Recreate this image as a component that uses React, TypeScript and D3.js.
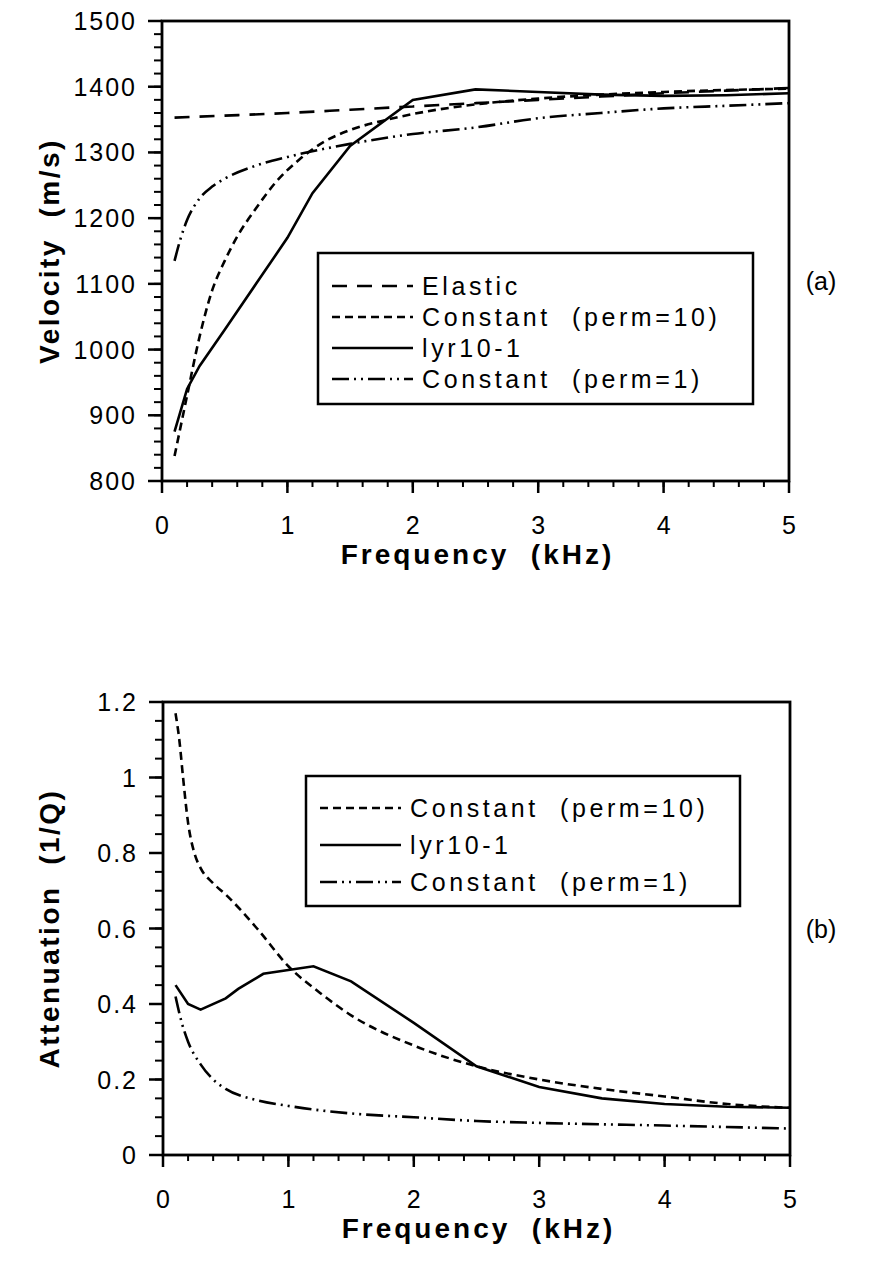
import React, { useEffect, useRef } from "react";
import * as d3 from "d3";

// frequency in kHz
const velocityElastic: [number, number][] = [
  [0.1, 1353], [0.5, 1356], [1, 1360], [1.5, 1365], [2, 1370], [2.5, 1375],
  [3, 1380], [3.5, 1385], [4, 1390], [4.5, 1394], [5, 1398],
];
const velocityPerm10: [number, number][] = [
  [0.1, 838], [0.2, 930], [0.3, 1020], [0.4, 1090], [0.5, 1135], [0.6, 1172],
  [0.75, 1215], [0.9, 1253], [1.1, 1290], [1.3, 1317], [1.5, 1334], [1.8, 1350],
  [2.1, 1362], [2.5, 1373], [3, 1382], [3.5, 1388], [4, 1392], [4.5, 1395], [5, 1397],
];
const velocityLyr: [number, number][] = [
  [0.1, 875], [0.2, 940], [0.3, 975], [0.5, 1030], [0.75, 1100], [1, 1170],
  [1.2, 1238], [1.5, 1310], [2, 1380], [2.5, 1396], [3, 1392], [3.5, 1388],
  [4, 1386], [4.5, 1387], [5, 1390],
];
const velocityPerm1: [number, number][] = [
  [0.1, 1135], [0.15, 1170], [0.2, 1197], [0.3, 1230], [0.4, 1248], [0.5, 1260],
  [0.75, 1280], [1, 1293], [1.5, 1313], [2, 1328], [2.5, 1338], [3, 1352],
  [3.5, 1360], [4, 1367], [4.5, 1371], [5, 1375],
];

const attenPerm10: [number, number][] = [
  [0.1, 1.17], [0.13, 1.1], [0.16, 1.0], [0.2, 0.88], [0.25, 0.8], [0.3, 0.76],
  [0.4, 0.72], [0.5, 0.69], [0.75, 0.6], [1, 0.5], [1.25, 0.43], [1.5, 0.37],
  [2, 0.29], [2.5, 0.235], [3, 0.2], [3.5, 0.175], [4, 0.155], [4.5, 0.135], [5, 0.125],
];
const attenLyr: [number, number][] = [
  [0.1, 0.45], [0.2, 0.4], [0.3, 0.385], [0.5, 0.415], [0.6, 0.44], [0.8, 0.48],
  [1, 0.49], [1.2, 0.5], [1.5, 0.46], [2, 0.35], [2.5, 0.235], [3, 0.18],
  [3.5, 0.15], [4, 0.135], [4.5, 0.128], [5, 0.125],
];
const attenPerm1: [number, number][] = [
  [0.1, 0.42], [0.15, 0.35], [0.2, 0.3], [0.3, 0.24], [0.4, 0.2], [0.5, 0.175],
  [0.75, 0.145], [1, 0.13], [1.5, 0.11], [2, 0.1], [2.5, 0.09], [3, 0.085],
  [4, 0.078], [5, 0.07],
];

const freqTicks = [0, 1, 2, 3, 4, 5];
const velocityTicks = [800, 900, 1000, 1100, 1200, 1300, 1400, 1500];
const attenTicks = [0, 0.2, 0.4, 0.6, 0.8, 1, 1.2];
const attenTickLabels = ["0", "0.2", "0.4", "0.6", "0.8", "1", "1.2"];

const STYLES: Record<string, { dash: string | null; curve: d3.CurveFactory }> = {
  elastic: { dash: "15,10", curve: d3.curveMonotoneX },
  perm10: { dash: "8,5", curve: d3.curveMonotoneX },
  lyr: { dash: null, curve: d3.curveLinear },
  perm1: { dash: "17,5,2,5,2,5", curve: d3.curveMonotoneX },
};

const FONT = "'Liberation Sans', Arial, Helvetica, sans-serif";

type Series = { key: string; label: string; data: [number, number][] };

function drawPanel(
  root: d3.Selection<SVGGElement, unknown, null, undefined>,
  opts: {
    left: number; right: number; top: number; bottom: number;
    yDomain: [number, number]; yTicks: number[]; yLabels: string[]; yMinor: number;
    yTitle: string; tag: string; tagValue: number;
    series: Series[];
    legend: { left: number; right: number; top: number; bottom: number; firstRow: number; rowGap: number };
  },
) {
  const x = d3.scaleLinear().domain([0, 5]).range([opts.left, opts.right]);
  const y = d3.scaleLinear().domain(opts.yDomain).range([opts.bottom, opts.top]);
  const g = root.append("g");

  // minor + major ticks (outside, left & bottom)
  const yMinorTicks = d3.range(opts.yDomain[0], opts.yDomain[1] + 1e-9, opts.yMinor);
  g.selectAll(".ymin").data(yMinorTicks).join("line")
    .attr("x1", opts.left - 8).attr("x2", opts.left)
    .attr("y1", (d) => y(d)).attr("y2", (d) => y(d))
    .attr("stroke", "#000").attr("stroke-width", 2);
  g.selectAll(".ymaj").data(opts.yTicks).join("line")
    .attr("x1", opts.left - 14).attr("x2", opts.left)
    .attr("y1", (d) => y(d)).attr("y2", (d) => y(d))
    .attr("stroke", "#000").attr("stroke-width", 2.5);
  const xMinorTicks = d3.range(0, 5.0001, 0.2);
  g.selectAll(".xmin").data(xMinorTicks).join("line")
    .attr("x1", (d) => x(d)).attr("x2", (d) => x(d))
    .attr("y1", opts.bottom).attr("y2", opts.bottom + 6)
    .attr("stroke", "#000").attr("stroke-width", 2);
  g.selectAll(".xmaj").data(freqTicks).join("line")
    .attr("x1", (d) => x(d)).attr("x2", (d) => x(d))
    .attr("y1", opts.bottom).attr("y2", opts.bottom + 12)
    .attr("stroke", "#000").attr("stroke-width", 2.5);

  // frame
  g.append("rect")
    .attr("x", opts.left).attr("y", opts.top)
    .attr("width", opts.right - opts.left).attr("height", opts.bottom - opts.top)
    .attr("fill", "none").attr("stroke", "#000").attr("stroke-width", 2.8);

  // tick labels
  g.selectAll(".ylab").data(opts.yTicks).join("text")
    .attr("x", opts.left - 25).attr("y", (d) => y(d)).attr("dy", "0.36em")
    .attr("text-anchor", "end").attr("font-family", FONT).attr("font-size", 25)
    .attr("letter-spacing", 2)
    .text((_, i) => opts.yLabels[i]);
  g.selectAll(".xlab").data(freqTicks).join("text")
    .attr("x", (d) => x(d)).attr("y", opts.bottom + 53)
    .attr("text-anchor", "middle").attr("font-family", FONT).attr("font-size", 25)
    .text((d) => String(d));

  // axis titles
  g.append("text")
    .attr("x", (opts.left + opts.right) / 2 + 2).attr("y", opts.bottom + 83)
    .attr("text-anchor", "middle").attr("font-family", FONT).attr("font-size", 28)
    .attr("font-weight", "bold").attr("letter-spacing", 3)
    .style("white-space", "pre")
    .text("Frequency  (kHz)");
  g.append("text")
    .attr("transform", `translate(59,${(opts.top + opts.bottom) / 2}) rotate(-90)`)
    .attr("text-anchor", "middle").attr("font-family", FONT).attr("font-size", 28)
    .attr("font-weight", "bold").attr("letter-spacing", 2.5)
    .style("white-space", "pre")
    .text(opts.yTitle);

  // panel tag
  g.append("text")
    .attr("x", 821).attr("y", y(opts.tagValue)).attr("dy", "0.36em")
    .attr("text-anchor", "middle").attr("font-family", FONT).attr("font-size", 25)
    .text(opts.tag);

  // curves
  opts.series.forEach((s) => {
    const st = STYLES[s.key];
    const line = d3.line<[number, number]>()
      .x((d) => x(d[0])).y((d) => y(d[1])).curve(st.curve);
    g.append("path")
      .attr("d", line(s.data))
      .attr("fill", "none").attr("stroke", "#000").attr("stroke-width", 2.6)
      .attr("stroke-dasharray", st.dash);
  });

  // legend
  const L = opts.legend;
  const lg = g.append("g");
  lg.append("rect")
    .attr("x", L.left).attr("y", L.top)
    .attr("width", L.right - L.left).attr("height", L.bottom - L.top)
    .attr("fill", "#fff").attr("stroke", "#000").attr("stroke-width", 2.5);
  opts.series.forEach((s, i) => {
    const st = STYLES[s.key];
    const ry = L.firstRow + i * L.rowGap;
    lg.append("line")
      .attr("x1", L.left + 14).attr("x2", L.left + 95)
      .attr("y1", ry).attr("y2", ry)
      .attr("stroke", "#000").attr("stroke-width", 2.6)
      .attr("stroke-dasharray", st.dash);
    lg.append("text")
      .attr("x", L.left + 104).attr("y", ry).attr("dy", "0.36em")
      .attr("font-family", FONT).attr("font-size", 25).attr("letter-spacing", 3.6)
      .style("white-space", "pre")
      .text(s.label);
  });
}

export default function App() {
  const ref = useRef<SVGSVGElement | null>(null);

  useEffect(() => {
    const svg = d3.select(ref.current);
    svg.selectAll("*").remove();
    const root = svg.append("g") as d3.Selection<SVGGElement, unknown, null, undefined>;

    drawPanel(root, {
      left: 162, right: 789, top: 21, bottom: 481,
      yDomain: [800, 1500], yTicks: velocityTicks, yLabels: velocityTicks.map(String), yMinor: 20,
      yTitle: "Velocity  (m/s)", tag: "(a)", tagValue: 1105,
      series: [
        { key: "elastic", label: "Elastic", data: velocityElastic },
        { key: "perm10", label: "Constant  (perm=10)", data: velocityPerm10 },
        { key: "lyr", label: "lyr10-1", data: velocityLyr },
        { key: "perm1", label: "Constant  (perm=1)", data: velocityPerm1 },
      ],
      legend: { left: 318, right: 753, top: 253, bottom: 404, firstRow: 286, rowGap: 31 },
    });

    drawPanel(root, {
      left: 163, right: 790, top: 702, bottom: 1155,
      yDomain: [0, 1.2], yTicks: attenTicks, yLabels: attenTickLabels, yMinor: 0.05,
      yTitle: "Attenuation  (1/Q)", tag: "(b)", tagValue: 0.6,
      series: [
        { key: "perm10", label: "Constant  (perm=10)", data: attenPerm10 },
        { key: "lyr", label: "lyr10-1", data: attenLyr },
        { key: "perm1", label: "Constant  (perm=1)", data: attenPerm1 },
      ],
      legend: { left: 306, right: 740, top: 776, bottom: 906, firstRow: 808, rowGap: 37 },
    });
  }, []);

  return (
    <svg
      ref={ref}
      width={869}
      height={1270}
      style={{ position: "absolute", left: 0, top: 0, background: "#fff", display: "block" }}
    />
  );
}
